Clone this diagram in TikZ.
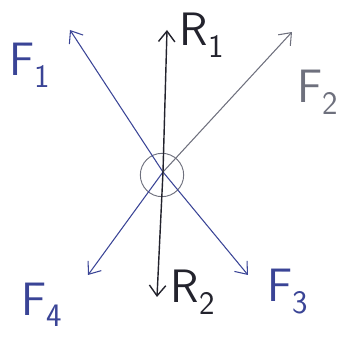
\documentclass[tikz,border=0pt]{standalone}
\usepackage{fontspec}
\usepackage{xcolor}
\usepackage{tikz}
\usetikzlibrary{arrows.meta}

\definecolor{penblue}{RGB}{58,68,150}
\definecolor{pengray}{RGB}{110,112,125}
\definecolor{penblack}{RGB}{35,35,45}

\begin{document}
\begin{tikzpicture}[
			x=0.03cm, y=-0.03cm,
			force/.style={draw=penblue, line width=0.9pt, -{Straight Barb[length=9pt, width=14pt]}},
			react/.style={draw=penblack, line width=1.2pt, -{Straight Barb[length=9pt, width=14pt]}},
			label/.style={font=\sffamily\fontsize{40}{44}\selectfont, inner sep=0pt},
			ring/.style={circle, draw=pengray, line width=0.8pt, minimum size=1.3cm, inner sep=0pt}
			]
			\useasboundingbox (0,0) rectangle (350,341);
			
			% Nodes
			\coordinate (o) at (163,172);
			\node[ring] (ring) at (162,175) {};
			\coordinate (f1) at (70,30);
			\coordinate (r1) at (167,30);
			\coordinate (f2) at (292,32);
			\coordinate (f3) at (248,275);
			\coordinate (r2) at (157,297);
			\coordinate (f4) at (88,275);
			
			\node[label, text=penblue] (lf1) at (30,65) {F\textsubscript{1}};
			\node[label, text=penblack] (lr1) at (202,35) {R\textsubscript{1}};
			\node[label, text=pengray] (lf2) at (318,92) {F\textsubscript{2}};
			\node[label, text=penblue] (lf3) at (288,292) {F\textsubscript{3}};
			\node[label, text=penblack] (lr2) at (193,292) {R\textsubscript{2}};
			\node[label, text=penblue] (lf4) at (42,305) {F\textsubscript{4}};
			
			% Arrows
			\draw[force] (o) -- (f1);
			\draw[force, draw=pengray] (o) -- (f2);
			\draw[force] (o) -- (f3);
			\draw[force] (o) -- (f4);
			\draw[react] (o) -- (r1);
			\draw[react] (o) -- (r2);
			
		\end{tikzpicture}
\end{document}
